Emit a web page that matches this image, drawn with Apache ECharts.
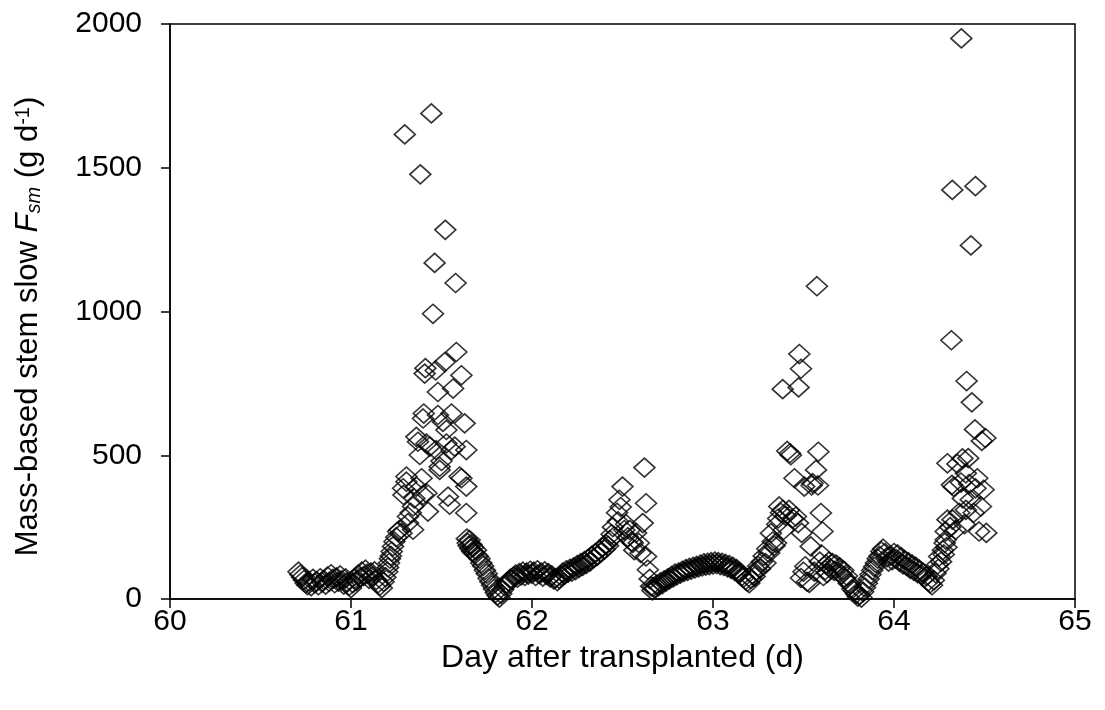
<!DOCTYPE html>
<html>
<head>
<meta charset="utf-8">
<script src="https://cdn.jsdelivr.net/npm/echarts@6/dist/echarts.min.js"></script>
<style>
html,body{margin:0;padding:0;background:#fff;}
#chart{width:1105px;height:710px;}
</style>
</head>
<body>
<div id="chart"></div>
<script>
// Data: [day after transplanted, Fsm (g d-1)]
const baseline1 = [[60.71,95],[60.72,85],[60.73,76],[60.74,66],[60.75,55],[60.76,48],[60.77,60],[60.78,45],[60.79,70],[60.80,55],[60.81,62],[60.82,48],[60.83,72],[60.84,58],[60.85,66],[60.86,50],[60.87,78],[60.88,60],[60.89,86],[60.90,70],[60.91,55],[60.92,75],[60.93,60],[60.94,82],[60.95,65],[60.96,50],[60.97,72],[60.98,58],[60.99,46],[61.00,38],[61.01,55],[61.02,70],[61.03,62],[61.04,85],[61.05,75],[61.06,95],[61.07,80],[61.08,102],[61.09,88],[61.10,70],[61.11,92],[61.12,78],[61.13,96],[61.14,66],[61.15,55],[61.16,46],[61.17,38],[61.18,60],[61.19,76],[61.20,95]];
const peak1 = [[61.205,110],[61.21,125],[61.215,140],[61.22,150],[61.225,165],[61.232,183],[61.24,200],[61.25,215],[61.26,235],[61.269,241],[61.279,229],[61.288,385],[61.29,362],[61.297,1616],[61.306,426],[61.306,408],[61.315,287],[61.315,264],[61.33,300],[61.343,322],[61.343,241],[61.35,350],[61.361,564],[61.361,391],[61.37,547],[61.38,501],[61.383,1477],[61.39,420],[61.398,628],[61.398,362],[61.402,645],[61.407,784],[61.411,803],[61.417,541],[61.417,368],[61.425,304],[61.435,530],[61.444,1689],[61.453,992],[61.462,1169],[61.468,795],[61.47,518],[61.48,720],[61.48,640],[61.49,460],[61.49,449],[61.5,480],[61.508,616],[61.518,824],[61.521,1284],[61.527,588],[61.527,541],[61.536,356],[61.545,328],[61.555,645],[61.555,518],[61.564,732],[61.573,530],[61.578,1099],[61.582,859],[61.6,426],[61.61,778],[61.61,420],[61.628,611],[61.637,518],[61.637,391],[61.637,299],[61.64,210]];
const trough1 = [[61.645,195],[61.65,185],[61.655,205],[61.66,175],[61.665,190],[61.67,165],[61.675,180],[61.68,160],[61.69,170],[61.70,150],[61.71,140],[61.72,125],[61.73,115],[61.74,100],[61.75,88],[61.76,72],[61.77,60],[61.78,48],[61.79,35],[61.80,22],[61.81,12],[61.82,5],[61.83,18],[61.84,32],[61.85,45],[61.86,55],[61.87,62],[61.88,70],[61.89,66],[61.90,78],[61.91,85],[61.92,74],[61.93,90],[61.94,82],[61.95,95],[61.96,80],[61.97,92],[61.98,85],[61.99,98],[62.00,88],[62.01,95],[62.02,80],[62.03,100],[62.04,86],[62.05,92],[62.06,78],[62.07,96],[62.08,84],[62.09,90],[62.10,75],[62.11,82],[62.12,68],[62.13,72],[62.14,62],[62.15,70],[62.16,80],[62.17,92],[62.18,85],[62.19,100],[62.20,92]];
const peak2 = [[62.21,105],[62.22,95],[62.23,110],[62.24,100],[62.25,118],[62.26,108],[62.27,125],[62.28,115],[62.29,132],[62.30,122],[62.31,140],[62.32,130],[62.33,150],[62.34,142],[62.35,160],[62.36,150],[62.37,170],[62.38,162],[62.39,180],[62.40,172],[62.41,190],[62.42,185],[62.43,205],[62.44,225],[62.447,250],[62.455,218],[62.47,300],[62.475,270],[62.483,345],[62.49,320],[62.5,391],[62.51,240],[62.52,260],[62.53,215],[62.54,240],[62.55,200],[62.557,195],[62.565,170],[62.575,230],[62.59,195],[62.60,160],[62.612,264],[62.621,457],[62.63,333],[62.63,148],[62.64,102],[62.65,70],[62.658,44]];
const mid = [[62.665,30],[62.67,42],[62.68,36],[62.69,50],[62.70,45],[62.71,58],[62.72,52],[62.73,65],[62.74,60],[62.75,72],[62.76,68],[62.77,80],[62.78,75],[62.79,88],[62.80,82],[62.81,92],[62.82,88],[62.83,98],[62.84,94],[62.85,104],[62.86,98],[62.87,108],[62.88,102],[62.89,112],[62.90,106],[62.91,115],[62.92,110],[62.93,120],[62.94,113],[62.95,124],[62.96,116],[62.97,126],[62.98,118],[62.99,128],[63.00,120],[63.01,130],[63.02,122],[63.03,128],[63.04,118],[63.05,126],[63.06,115],[63.07,122],[63.08,110],[63.09,118],[63.10,105],[63.11,112],[63.12,98],[63.13,104],[63.14,90],[63.15,92],[63.16,80],[63.17,75],[63.18,66],[63.19,60],[63.20,55],[63.21,70],[63.22,85],[63.23,78],[63.24,100]];
const peak3 = [[63.25,115],[63.26,105],[63.27,130],[63.28,150],[63.29,125],[63.30,175],[63.31,160],[63.32,229],[63.33,200],[63.34,185],[63.348,195],[63.355,260],[63.36,280],[63.366,322],[63.375,300],[63.385,730],[63.385,310],[63.39,240],[63.40,290],[63.41,515],[63.42,310],[63.425,507],[63.43,500],[63.44,280],[63.45,420],[63.458,287],[63.473,736],[63.47,264],[63.486,801],[63.477,852],[63.486,73],[63.49,230],[63.50,95],[63.504,391],[63.51,114],[63.52,60],[63.532,56],[63.54,183],[63.545,395],[63.55,403],[63.56,95],[63.569,449],[63.574,1088],[63.582,512],[63.58,395],[63.59,130],[63.596,299],[63.60,155],[63.605,235],[63.61,80],[63.62,100]];
const trough3 = [[63.625,120],[63.63,90],[63.64,130],[63.65,105],[63.66,125],[63.67,98],[63.68,120],[63.69,95],[63.70,110],[63.71,85],[63.72,100],[63.73,72],[63.74,80],[63.75,55],[63.76,50],[63.77,35],[63.78,28],[63.79,18],[63.80,8],[63.81,15],[63.82,5],[63.83,25],[63.84,40],[63.85,55],[63.86,70],[63.87,85],[63.88,100],[63.89,112],[63.90,125],[63.91,140],[63.92,150],[63.93,165],[63.94,175],[63.95,160],[63.96,145],[63.97,130],[63.98,150],[63.99,135],[64.00,160],[64.01,140],[64.02,155],[64.03,130],[64.04,145],[64.05,120],[64.06,135],[64.07,115],[64.08,128],[64.09,105],[64.10,120],[64.11,98],[64.12,112],[64.13,90],[64.14,102],[64.15,85],[64.16,92],[64.17,75],[64.18,80],[64.19,62],[64.20,55],[64.21,48],[64.22,65]];
const peak4 = [[64.23,90],[64.24,120],[64.245,105],[64.25,148],[64.26,130],[64.27,170],[64.275,155],[64.28,195],[64.286,206],[64.286,235],[64.29,180],[64.295,276],[64.295,472],[64.317,900],[64.31,250],[64.322,1423],[64.32,397],[64.323,276],[64.33,390],[64.34,240],[64.35,470],[64.36,300],[64.372,1950],[64.37,405],[64.378,489],[64.38,350],[64.39,260],[64.401,758],[64.397,437],[64.397,310],[64.41,490],[64.415,400],[64.43,684],[64.424,345],[64.425,1230],[64.44,300],[64.447,590],[64.45,1436],[64.45,385],[64.46,420],[64.47,235],[64.485,550],[64.48,322],[64.495,380],[64.505,560],[64.51,230]];

const xTicks = [60, 61, 62, 63, 64, 65];
const yTicks = [0, 500, 1000, 1500, 2000];

const allPoints = [].concat(baseline1, peak1, trough1, peak2, mid, peak3, trough3, peak4);

const FONT = 'Liberation Sans, Arial, sans-serif';
const chart = echarts.init(document.getElementById('chart'), null, {renderer: 'canvas'});
chart.setOption({
  animation: false,
  backgroundColor: '#fff',
  grid: {left: 170, right: 30, top: 24, bottom: 111, show: true, borderColor: '#000', borderWidth: 1.5, backgroundColor: 'transparent'},
  xAxis: {
    type: 'value', min: xTicks[0], max: xTicks[xTicks.length - 1], interval: 1,
    name: 'Day after transplanted (d)', nameLocation: 'middle', nameGap: 40,
    nameTextStyle: {fontFamily: FONT, fontSize: 32, color: '#000'},
    axisLine: {show: true, onZero: false, lineStyle: {color: '#000', width: 1.5}},
    axisTick: {show: true, inside: false, length: 9, lineStyle: {color: '#000', width: 1.5}},
    axisLabel: {fontFamily: FONT, fontSize: 30, color: '#000', margin: 8, formatter: v => String(v)},
    splitLine: {show: false}
  },
  yAxis: {
    type: 'value', min: yTicks[0], max: yTicks[yTicks.length - 1], interval: 500,
    name: '{a|Mass-based stem slow }{i|F}{sub|sm}{a| (g d}{sup|-1}{a|)}',
    nameLocation: 'middle', nameGap: 126, nameRotate: 90,
    nameTextStyle: {
      fontFamily: FONT, fontSize: 31, color: '#000', padding: [0, 30, 0, 0],
      rich: {
        a: {fontFamily: FONT, fontSize: 31, color: '#000'},
        i: {fontFamily: FONT, fontSize: 31, color: '#000', fontStyle: 'italic'},
        sub: {fontFamily: FONT, fontSize: 20, color: '#000', fontStyle: 'italic', verticalAlign: 'bottom'},
        sup: {fontFamily: FONT, fontSize: 20, color: '#000', verticalAlign: 'top'}
      }
    },
    axisLine: {show: true, lineStyle: {color: '#000', width: 1.5}},
    axisTick: {show: true, inside: false, length: 9, lineStyle: {color: '#000', width: 1.5}},
    axisLabel: {fontFamily: FONT, fontSize: 30, color: '#000', margin: 28, formatter: v => String(v)},
    splitLine: {show: false}
  },
  series: [{
    type: 'scatter',
    data: allPoints,
    symbol: 'diamond',
    symbolSize: [21, 19],
    itemStyle: {color: 'transparent', borderColor: '#000', borderWidth: 1.6},
    emphasis: {disabled: true}
  }]
});
</script>
</body>
</html>
